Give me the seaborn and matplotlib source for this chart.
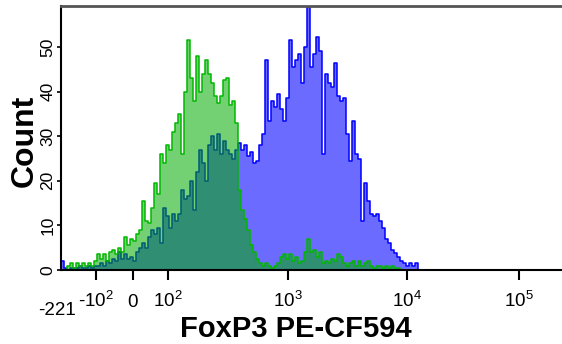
import numpy as np
import pandas as pd
import matplotlib
matplotlib.use("Agg")
import matplotlib.pyplot as plt
from matplotlib import font_manager
import seaborn as sns

# ---- data (counts per display channel) ----
green_counts = [0, 0, 1, 1.5, 0.5, 1.5, 1, 1.5, 1, 1.5,
                1, 2, 3.5, 2.5, 3.5, 2, 4, 4.5, 3.5, 5,
                4, 7.5, 5.5, 7, 6.5, 8, 9, 15.5, 11, 10.5,
                14, 19.5, 17, 26, 24, 28, 27, 31, 33, 35,
                26, 40, 51.5, 43, 38, 48, 40, 44, 47, 44,
                42, 39, 37.5, 39, 42.5, 43, 37, 38, 33, 18,
                13.5, 11.5, 9, 5.5, 4, 2.5, 1.5, 1, 1.5, 1,
                0.5, 1, 1.5, 3, 3.5, 2.5, 3.5, 2, 3, 1.5,
                2, 4, 7, 4, 4.5, 3, 4, 1.5, 2, 1.5,
                2.5, 2, 3.5, 3, 1.5, 1, 1.5, 2, 1, 2,
                1, 1.5, 2, 1, 0.5, 1, 1, 0.5, 1, 0.5,
                1, 0.5, 0.5, 0, 0, 0, 0, 0, 0, 0]
blue_counts = [2, 0.5, 0, 0.5, 0.5, 0.5, 1, 0.5, 0.5, 1,
               0.5, 1, 1, 1.5, 1, 2, 1.5, 2.5, 2, 4,
               2.5, 3.5, 2.5, 3, 2, 4, 5, 6, 5, 7.5,
               9, 8, 9.5, 6, 14, 12, 9.5, 12.5, 11, 12.5,
               18, 16, 16.5, 20, 13.5, 22, 27, 24, 20, 28,
               30, 27, 30.5, 26, 29, 27, 26, 25, 27, 28.5,
               27, 28, 25.5, 26.5, 24, 24.5, 28, 30.5, 47, 33.5,
               38, 36.5, 39.5, 36, 33.5, 38.5, 51.5, 45.5, 47, 48.5,
               42, 50, 59, 45.5, 48.5, 52.3, 49, 26, 44, 42,
               41, 46.5, 39, 38, 38.5, 30.5, 24.5, 33.5, 26, 25,
               11, 19.5, 15.5, 12.5, 12, 12.5, 11, 9.5, 7, 6,
               4.5, 3.8, 3, 2, 1.5, 1, 1.5, 1, 1.5, 0]
x_tick_values = [-100, 0, 100, 1000, 10000, 100000]
x_tick_labels = [r"-10$^{2}$", "0", r"10$^{2}$", r"10$^{3}$", r"10$^{4}$", r"10$^{5}$"]
x_min_label = "-221"
y_ticks = [0, 10, 20, 30, 40, 50]

# ---- style ----
sns.set_style("ticks")
plt.rcParams["font.family"] = ["Liberation Sans", "DejaVu Sans"]
plt.rcParams["text.color"] = "black"
plt.rcParams["xtick.color"] = "black"
plt.rcParams["ytick.color"] = "black"
plt.rcParams["axes.labelcolor"] = "black"

installed = {f.name for f in font_manager.fontManager.ttflist}
tick_family = "Liberation Sans Narrow" if "Liberation Sans Narrow" in installed else "Liberation Sans"
narrow = tick_family != "Liberation Sans"
plt.rcParams["mathtext.fontset"] = "custom"
plt.rcParams["mathtext.rm"] = tick_family
plt.rcParams["mathtext.it"] = tick_family + ":italic"
plt.rcParams["mathtext.bf"] = tick_family + ":bold"

xt_size = 14.5 if narrow else 13.5
yt_size = 13.5 if narrow else 12.5

# biexponential-like display scale: value -> channel
ANCHOR_V = np.array([-221, -100, 0, 100, 1000, 1e4, 1e5, 262144])
ANCHOR_C = np.array([0, 11.67, 23.87, 35.57, 75.6, 115.27, 152.67, 167.0])


def to_channel(v):
    return np.interp(np.arcsinh(np.asarray(v, float) / 100.0),
                     np.arcsinh(ANCHOR_V / 100.0), ANCHOR_C)


fig = plt.figure(figsize=(5.62, 3.44), dpi=100)
ax = fig.add_axes([61 / 562, 1 - 270 / 344, 501 / 562, 264 / 344])

n_bins = len(blue_counts)
df = pd.DataFrame({
    "channel": np.arange(n_bins) + 0.5,
    "blue": blue_counts,
    "green": green_counts,
})

sns.histplot(data=df, x="channel", weights="blue", binwidth=1, binrange=(0, n_bins),
             element="step", fill=True, color=(107 / 255, 107 / 255, 1.0), alpha=1.0,
             edgecolor="#0000ff", linewidth=1.1, ax=ax)
sns.histplot(data=df, x="channel", weights="green", binwidth=1, binrange=(0, n_bins),
             element="step", fill=True, color=(0.0, 0.67, 0.0), alpha=0.55,
             edgecolor="#00b800", linewidth=1.1, ax=ax)

ax.set_xlim(0, to_channel(262144))
ax.set_ylim(0, 59.2)

ax.set_xticks(to_channel(x_tick_values))
ax.set_xticklabels(x_tick_labels, fontsize=xt_size, family=tick_family, va="baseline")
ax.tick_params(axis="x", length=7, width=1.5, pad=19.5, color="black")
ax.text(to_channel(-221) - 1.3, -0.152, x_min_label, transform=ax.get_xaxis_transform(),
        ha="center", va="center", fontsize=xt_size, family=tick_family, clip_on=False)

ax.set_yticks(y_ticks)
ax.set_yticklabels([str(t) for t in y_ticks], fontsize=yt_size, family=tick_family,
                   rotation=90, va="center")
ax.tick_params(axis="y", length=3, width=1.2, pad=1)

ax.set_xlabel("FoxP3 PE-CF594", fontsize=21, fontweight="bold")
ax.xaxis.set_label_coords(0.469, -0.17)
ax.set_ylabel("Count", fontsize=23, fontweight="bold")
ax.yaxis.set_label_coords(-0.043, 0.489)

ax.spines["left"].set_linewidth(1.5)
ax.spines["left"].set_color("black")
ax.spines["bottom"].set_linewidth(1.5)
ax.spines["bottom"].set_color("black")
ax.spines["top"].set_visible(True)
ax.spines["top"].set_color("#555555")
ax.spines["top"].set_linewidth(2)
ax.spines["right"].set_visible(False)

fig.savefig("out.png", dpi=100)
